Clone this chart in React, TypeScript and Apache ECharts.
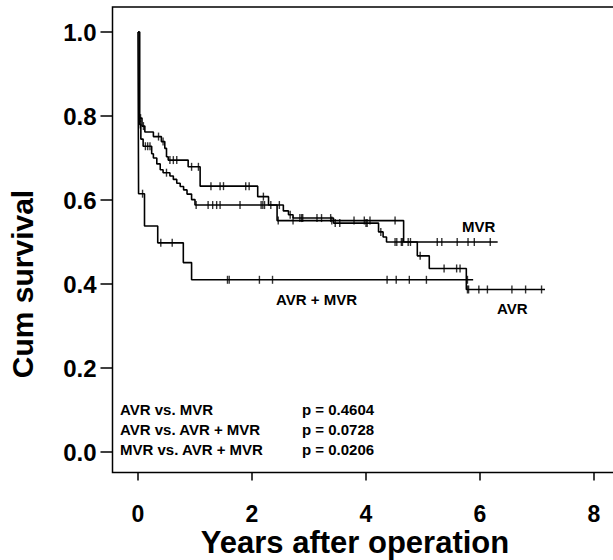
import React, { useEffect, useRef } from "react";
import * as echarts from "echarts";

// ---- Data ----
const xTickValues = [0, 2, 4, 6, 8];
const xTickLabels = ["0", "2", "4", "6", "8"];
const yTickValues = [0, 0.2, 0.4, 0.6, 0.8, 1.0];
const yTickLabels = ["0.0", "0.2", "0.4", "0.6", "0.8", "1.0"];

// MVR: step times (years) and survival from that time on
const mvrTime = [0, 0.02, 0.07, 0.12, 0.27, 0.41, 0.47, 0.5, 0.53, 0.88, 1.09, 2.1, 2.29, 2.55, 2.64, 2.72, 3.43, 4.22, 4.3, 4.36, 6.31];
const mvrSurv = [1.0, 0.795, 0.776, 0.762, 0.751, 0.739, 0.723, 0.703, 0.695, 0.679, 0.633, 0.608, 0.588, 0.574, 0.565, 0.557, 0.545, 0.524, 0.512, 0.5, 0.5];
const mvrCensor = [0.045, 0.095, 0.36, 0.44, 0.56, 0.62, 0.68, 0.94, 1.06, 1.28, 1.44, 1.5, 1.89, 1.95, 2.2, 2.33, 2.48, 2.67, 2.84, 2.87, 2.89, 3.14, 3.22, 3.38, 3.46, 3.54, 4.0, 4.02, 4.26, 4.51, 4.54, 4.62, 4.64, 5.25, 5.33, 5.6, 5.79, 5.9, 6.18];

// AVR
const avrTime = [0, 0.03, 0.05, 0.09, 0.24, 0.27, 0.33, 0.39, 0.44, 0.56, 0.62, 0.68, 0.74, 0.8, 0.86, 0.94, 1.0, 2.44, 4.66, 4.9, 5.11, 5.76, 7.14];
const avrSurv = [1.0, 0.78, 0.745, 0.728, 0.71, 0.7, 0.686, 0.672, 0.665, 0.657, 0.649, 0.64, 0.632, 0.624, 0.614, 0.601, 0.588, 0.551, 0.5, 0.467, 0.437, 0.387, 0.387];
const avrCensor = [0.04, 0.13, 0.17, 0.21, 0.5, 1.02, 1.23, 1.31, 1.38, 1.44, 1.79, 2.16, 2.19, 2.22, 2.46, 2.72, 3.4, 3.79, 3.97, 4.07, 4.51, 4.74, 4.78, 4.95, 5.37, 5.59, 5.65, 5.78, 5.8, 5.98, 6.13, 6.56, 6.8, 7.08];

// AVR + MVR
const bothTime = [0, 0.01, 0.114, 0.346, 0.795, 0.94, 5.88];
const bothSurv = [1.0, 0.615, 0.538, 0.498, 0.451, 0.41, 0.41];
const bothCensor = [0.08, 0.4, 0.6, 1.57, 1.6, 2.13, 2.36, 4.37, 4.53, 4.76, 5.06, 5.78];

const pLabels = ["AVR vs. MVR", "AVR vs. AVR + MVR", "MVR vs. AVR + MVR"];
const pValues = ["p = 0.4604", "p = 0.0728", "p = 0.0206"];

const FONT = '"Liberation Sans", Arial, Helvetica, sans-serif';

function curve(times: number[], surv: number[]) {
  return times.map((t, i) => [t, surv[i]]);
}
function levelAt(times: number[], surv: number[], t: number) {
  let v = surv[0];
  for (let i = 0; i < times.length; i++) if (times[i] <= t) v = surv[i];
  return v;
}
function censors(censorTimes: number[], times: number[], surv: number[]) {
  return censorTimes.map((t) => [t, levelAt(times, surv, t)]);
}

export default function App() {
  const ref = useRef<HTMLDivElement>(null);
  useEffect(() => {
    if (!ref.current) return;
    const chart = echarts.init(ref.current, null, { renderer: "svg" });
    const lineStyle = { color: "#000", width: 1.6 };
    const tick = { symbol: "rect", symbolSize: [1.4, 8], itemStyle: { color: "#000" } };
    const textStyle = (size: number) => ({
      fill: "#000",
      fontSize: size,
      fontWeight: "bold",
      fontFamily: FONT,
    });
    const graphics: any[] = [
      {
        type: "rect",
        shape: { x: 112.5, y: 7, width: 530, height: 465.5 },
        style: { fill: "none", stroke: "#000", lineWidth: 1.5 },
        silent: true,
      },
      {
        type: "text",
        x: 22,
        y: 284,
        rotation: Math.PI / 2,
        style: { ...textStyle(30), text: "Cum survival", align: "center", verticalAlign: "middle" },
      },
      {
        type: "text",
        x: 355,
        y: 542,
        style: { ...textStyle(31), text: "Years after operation", align: "center", verticalAlign: "middle" },
      },
      { type: "text", x: 462, y: 226, style: { ...textStyle(15), text: "MVR", align: "left", verticalAlign: "middle" } },
      { type: "text", x: 497, y: 308, style: { ...textStyle(15), text: "AVR", align: "left", verticalAlign: "middle" } },
      { type: "text", x: 276, y: 299, style: { ...textStyle(15), text: "AVR + MVR", align: "left", verticalAlign: "middle" } },
    ];
    const pY = [409, 429, 449];
    pLabels.forEach((s, i) => {
      graphics.push({ type: "text", x: 120, y: pY[i], style: { ...textStyle(15), text: s, align: "left", verticalAlign: "middle" } });
      graphics.push({ type: "text", x: 302, y: pY[i], style: { ...textStyle(15), text: pValues[i], align: "left", verticalAlign: "middle" } });
    });

    chart.setOption({
      animation: false,
      textStyle: { fontFamily: FONT },
      grid: { left: 112.5, right: 0, top: 7, bottom: 87.5, containLabel: false },
      xAxis: {
        type: "value",
        min: -25.5 / 57,
        max: 475 / 57,
        axisLine: { show: false, onZero: false },
        axisTick: { show: true, length: 8, customValues: xTickValues, lineStyle: { color: "#000", width: 1.5 } },
        splitLine: { show: false },
        axisLabel: {
          color: "#000",
          fontSize: 23,
          fontWeight: "bold",
          fontFamily: FONT,
          margin: 30,
          customValues: xTickValues,
          formatter: (v: number) => xTickLabels[xTickValues.findIndex((x) => Math.abs(x - v) < 1e-6)] ?? "",
        },
      },
      yAxis: {
        type: "value",
        min: -20.5 / 420,
        max: 445 / 420,
        axisLine: { show: false, onZero: false },
        axisTick: { show: true, length: 12, customValues: yTickValues, lineStyle: { color: "#000", width: 1.5 } },
        splitLine: { show: false },
        axisLabel: {
          color: "#000",
          fontSize: 24,
          fontWeight: "bold",
          fontFamily: FONT,
          margin: 16,
          customValues: yTickValues,
          formatter: (v: number) => yTickLabels[yTickValues.findIndex((y) => Math.abs(y - v) < 1e-6)] ?? "",
        },
      },
      graphic: graphics,
      series: [
        { name: "MVR", type: "line", step: "end", symbol: "none", lineStyle, data: curve(mvrTime, mvrSurv) },
        { name: "AVR", type: "line", step: "end", symbol: "none", lineStyle, data: curve(avrTime, avrSurv) },
        { name: "AVR + MVR", type: "line", step: "end", symbol: "none", lineStyle, data: curve(bothTime, bothSurv) },
        { name: "MVR censored", type: "scatter", ...tick, data: censors(mvrCensor, mvrTime, mvrSurv) },
        { name: "AVR censored", type: "scatter", ...tick, data: censors(avrCensor, avrTime, avrSurv) },
        { name: "AVR + MVR censored", type: "scatter", ...tick, data: censors(bothCensor, bothTime, bothSurv) },
      ],
    });
    return () => chart.dispose();
  }, []);
  return <div ref={ref} style={{ position: "fixed", left: 0, top: 0, width: 613, height: 560, background: "#fff" }} />;
}
